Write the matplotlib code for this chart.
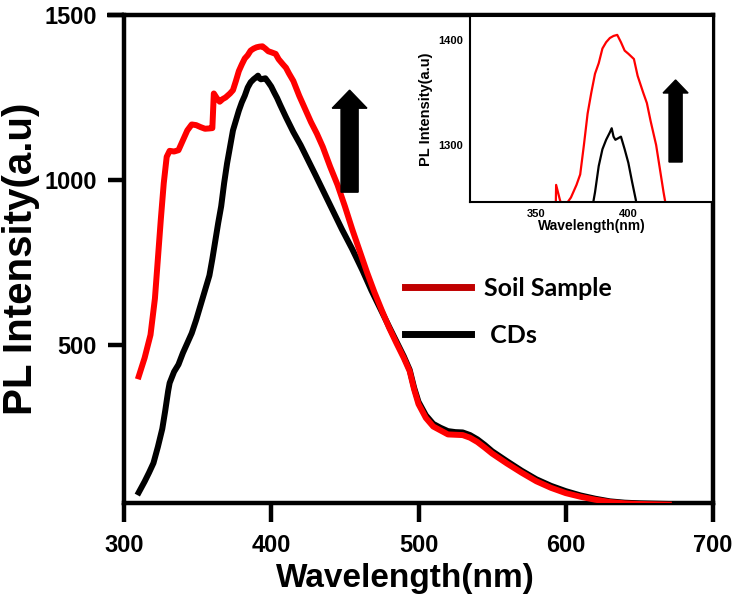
import matplotlib
matplotlib.use("Agg")
import matplotlib.pyplot as plt
from matplotlib.patches import FancyArrow
from matplotlib.lines import Line2D

# soil sample spectrum (red)
soil_wl = [310, 314, 318, 321, 323, 325, 327, 329, 331, 334, 337, 340, 343, 346, 349,
           352, 355, 358, 360, 361, 363, 365, 367, 369, 372, 374, 376, 378, 380, 382,
           384, 386, 388, 390, 392, 394, 396, 398, 400, 403, 405, 408, 410, 412, 415,
           419, 423, 427, 431, 435, 440, 445, 450, 455, 460, 465, 470, 475, 480, 485,
           490, 494, 497, 500, 505, 510, 515, 520, 525, 530, 535, 540, 545, 550, 560,
           570, 580, 590, 600, 610, 620, 630, 640, 650, 660, 670]
soil_pl = [404, 460, 530, 640, 760, 880, 990, 1070, 1088, 1086, 1090, 1120, 1150, 1168, 1166,
           1160, 1155, 1156, 1157, 1262, 1248, 1237, 1245, 1250, 1262, 1272, 1300, 1330, 1350, 1368,
           1378, 1392, 1398, 1402, 1404, 1405, 1398, 1390, 1387, 1382, 1366, 1350, 1340, 1323, 1300,
           1255, 1215, 1175, 1140, 1100, 1040, 985, 920, 850, 785, 720, 660, 605, 552, 505,
           460, 420, 365, 320, 278, 252, 240, 228, 227, 226, 218, 205, 188, 170, 140,
           112, 86, 66, 50, 39, 30, 23, 19, 17, 16, 15]

# CDs spectrum (black)
cds_wl = [310, 314, 317, 320, 323, 326, 328, 330, 331, 334, 337, 340, 343, 346, 349,
          352, 355, 358, 360, 362, 364, 366, 368, 370, 372, 374, 376, 378, 380, 382,
          384, 386, 388, 390, 391, 392, 393, 395, 396, 398, 400, 402, 404, 406, 410,
          415, 420, 425, 430, 436, 442, 448, 455, 462, 468, 474, 480, 485, 490, 494,
          497, 500, 505, 510, 515, 520, 525, 530, 535, 540, 545, 550, 560, 570, 580,
          590, 600, 610, 620, 630, 640, 650, 660, 670]
cds_pl = [52, 85, 112, 141, 190, 245, 300, 360, 384, 418, 440, 475, 505, 535, 575,
          620, 665, 710, 760, 815, 870, 920, 990, 1050, 1100, 1150, 1180, 1210, 1235, 1255,
          1280, 1296, 1305, 1312, 1316, 1308, 1305, 1307, 1308, 1296, 1283, 1265, 1248, 1228, 1190,
          1145, 1105, 1060, 1015, 960, 905, 850, 790, 725, 665, 610, 555, 510, 465, 424,
          370, 327, 286, 260, 248, 238, 235, 234, 226, 213, 196, 177, 147, 118, 92,
          72, 56, 43, 33, 25, 21, 19, 18, 17]

labels = ["Soil Sample", " CDs"]
xticks = [300, 400, 500, 600, 700]
yticks = [500, 1000, 1500]
inset_xticks = [350, 400]
inset_yticks = [1300, 1400]

plt.rcParams["font.family"] = ["Liberation Sans", "DejaVu Sans"]

fig = plt.figure(figsize=(7.35, 6.06), dpi=100)
ax = fig.add_axes([124 / 735, 1 - 503 / 606, 589 / 735, 488 / 606])

ax.plot(cds_wl, cds_pl, color="black", lw=4.3, zorder=2)
ax.plot(soil_wl, soil_pl, color="#ff0000", lw=4.3, zorder=3)

ax.set_xlim(300, 700)
ax.set_ylim(20, 1500)
ax.set_xticks(xticks)
ax.set_yticks(yticks)
ax.set_xticklabels([str(t) for t in xticks], fontweight="bold", fontsize=17)
ax.set_yticklabels([str(t) for t in yticks], fontweight="bold", fontsize=17)
ax.tick_params(axis="x", length=13.5, width=3.2, pad=9, direction="out")
ax.tick_params(axis="y", length=11.5, width=3.2, pad=8, direction="out")
for s in ax.spines.values():
    s.set_linewidth(3.2)

ax.set_xlabel("Wavelength(nm)", fontweight="bold", fontsize=24)
ax.xaxis.set_label_coords(0.478, -0.122)
ax.set_ylabel("PL Intensity(a.u)", fontweight="bold", fontsize=29, labelpad=3)

# top spine sticks out to the left like in the original
ax.add_line(Line2D([-0.029, 0], [1, 1], transform=ax.transAxes, color="black",
                   lw=3.2, clip_on=False, solid_capstyle="butt"))

# big arrow
ax.add_patch(FancyArrow(0.383, 0.637, 0, 0.209, width=0.029, head_width=0.059,
                        head_length=0.037, length_includes_head=True,
                        transform=ax.transAxes, color="black", zorder=4))

handles = [Line2D([], [], color="#c00000", lw=5), Line2D([], [], color="black", lw=5)]
leg = ax.legend(handles, labels, loc="upper left", bbox_to_anchor=(0.477, 0.463),
                frameon=False, borderpad=0, borderaxespad=0, handlelength=2.65,
                handletextpad=0.5, labelspacing=0.95,
                prop={"family": "Lato", "weight": "bold", "size": 18})

# inset
ins = fig.add_axes([470 / 735, 1 - 202 / 606, 243 / 735, 186 / 606])
ins.plot(cds_wl, cds_pl, color="black", lw=1.6)
ins.plot(soil_wl, soil_pl, color="#ff0000", lw=1.6)
ins.set_xlim(314.5, 445.7)
ins.set_ylim(1245.7, 1423)
ins.set_xticks(inset_xticks)
ins.set_yticks(inset_yticks)
ins.set_xticklabels([str(t) for t in inset_xticks], fontweight="bold", fontsize=8)
ins.set_yticklabels([str(t) for t in inset_yticks], fontweight="bold", fontsize=8)
ins.tick_params(length=0, pad=5)
for s in ins.spines.values():
    s.set_linewidth(1.5)
ins.set_xlabel("Wavelength(nm)", fontweight="bold", fontsize=10, labelpad=0)
ins.set_ylabel("PL Intensity(a.u)", fontweight="bold", fontsize=10.5, labelpad=4)
ins.add_patch(FancyArrow(0.846, 0.215, 0, 0.441, width=0.054, head_width=0.103,
                         head_length=0.07, length_includes_head=True,
                         transform=ins.transAxes, color="black"))

fig.savefig("out.png", dpi=100)
